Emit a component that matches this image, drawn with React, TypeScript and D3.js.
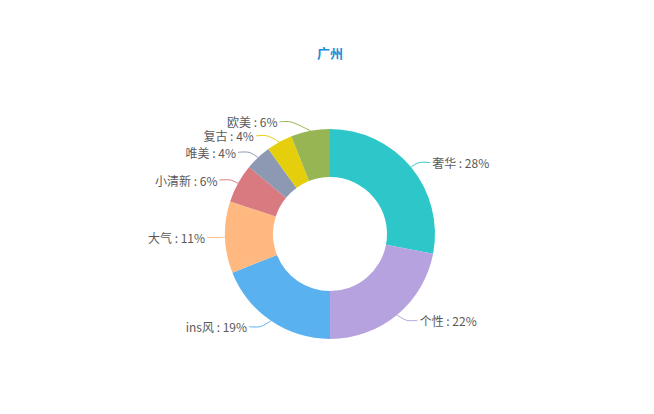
import React from "react";
import * as d3 from "d3";

const title = "广州";
const categories = ["奢华", "个性", "ins风", "大气", "小清新", "唯美", "复古", "欧美"];
const values = [28, 22, 19, 11, 6, 4, 4, 6];
const colors = ["#2ec7c9", "#b6a2de", "#5ab1ef", "#ffb980", "#d87a80", "#8d98b3", "#e5cf0d", "#97b552"];

const W = 654;
const H = 414;
const cx = 330;
const cy = 234;
const rOuter = 105;
const rInner = 57;
const len1 = 7;
const len2 = 11;
const labelH = 14;

export default function App() {
  const total = d3.sum(values);
  const pie = d3.pie<number>().sort(null).value((d) => d);
  const arcs = pie(values);
  const arcGen = d3.arc<d3.PieArcDatum<number>>().innerRadius(rInner).outerRadius(rOuter);

  type Lab = { i: number; mid: number; dir: number; y: number; x: number };
  const labs: Lab[] = arcs.map((a, i) => {
    const mid = (a.startAngle + a.endAngle) / 2;
    const dir = Math.sin(mid) >= 0 ? 1 : -1;
    return { i, mid, dir, y: cy - (rOuter + len1) * Math.cos(mid), x: 0 };
  });

  // resolve overlaps on each side: upper labels pushed up, lower labels pushed down
  [1, -1].forEach((side) => {
    const sideList = labs.filter((l) => l.dir === side);
    const upper = sideList.filter((l) => l.y < cy).sort((a, b) => b.y - a.y);
    for (let k = 1; k < upper.length; k++) {
      if (upper[k - 1].y - upper[k].y < labelH) upper[k].y = upper[k - 1].y - labelH;
    }
    const lower = sideList.filter((l) => l.y >= cy).sort((a, b) => a.y - b.y);
    for (let k = 1; k < lower.length; k++) {
      if (lower[k].y - lower[k - 1].y < labelH) lower[k].y = lower[k - 1].y + labelH;
    }
    const R = rOuter + len1 + len2;
    sideList.forEach((l) => {
      const dy = Math.abs(l.y - cy);
      const dx = dy < R ? Math.sqrt(R * R - dy * dy) : len2;
      l.x = cx + side * dx;
    });
  });

  const lineGen = d3
    .line<[number, number]>()
    .x((d) => d[0])
    .y((d) => d[1])
    .curve(d3.curveCatmullRom.alpha(0.5));

  const fmt = (v: number) => `${Math.round((v / total) * 100)}%`;

  return (
    <div style={{ position: "fixed", left: 0, top: 0 }}>
      <svg width={W} height={H} style={{ display: "block", background: "#fff" }}>
        <text
          x={cx}
          y={52}
          textAnchor="middle"
          dominantBaseline="central"
          fontFamily="'Noto Sans CJK SC', 'Noto Sans', sans-serif"
          fontWeight="bold"
          fontSize={13}
          fill="#1a8dd6"
        >
          {title}
        </text>
        <g transform={`translate(${cx},${cy})`}>
          {arcs.map((a, i) => (
            <path key={i} d={arcGen(a) || ""} fill={colors[i]} />
          ))}
        </g>
        {labs.map((l) => {
          const p0: [number, number] = [cx + rOuter * Math.sin(l.mid), cy - rOuter * Math.cos(l.mid)];
          const p1: [number, number] = [l.x - l.dir * len2, l.y];
          const p2: [number, number] = [l.x, l.y];
          return (
            <g key={l.i}>
              <path d={lineGen([p0, p1, p2]) || ""} fill="none" stroke={colors[l.i]} strokeWidth={1} />
              <text
                x={l.x + l.dir * 2}
                y={l.y}
                textAnchor={l.dir > 0 ? "start" : "end"}
                dominantBaseline="central"
                fontFamily="'Noto Sans CJK SC', 'Noto Sans', sans-serif"
                fontSize={12}
                fill="#5a5a5a"
              >
                {`${categories[l.i]} : ${fmt(values[l.i])}`}
              </text>
            </g>
          );
        })}
      </svg>
    </div>
  );
}
